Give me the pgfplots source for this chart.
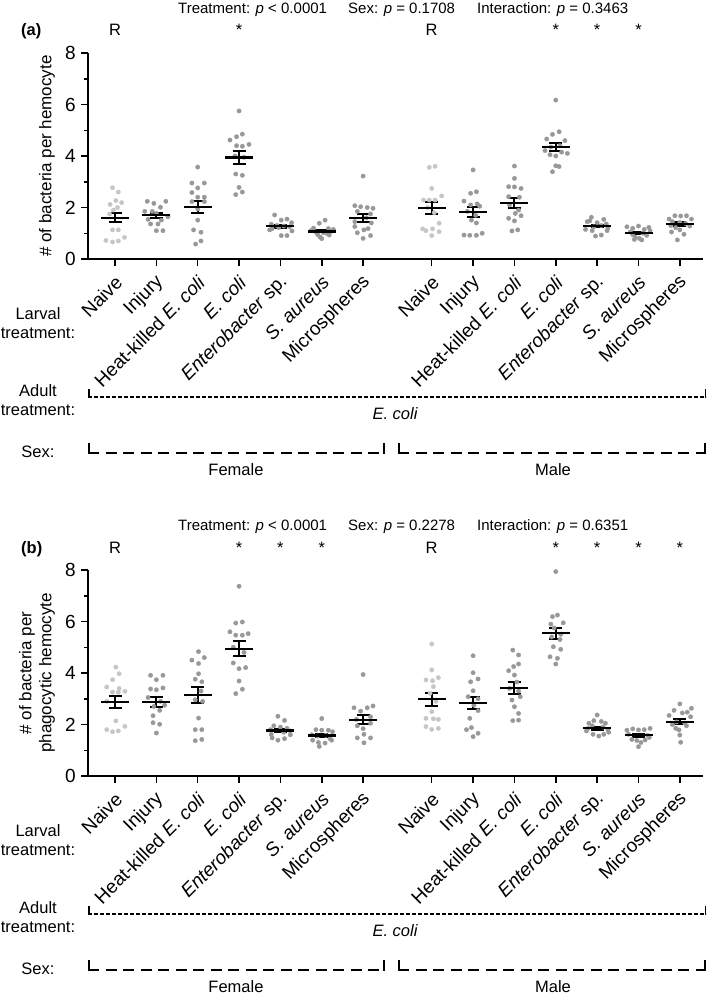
\documentclass[border=0pt]{standalone}
\usepackage{fontspec}
\setmainfont{Liberation Sans}
\usepackage{pgfplots}
\pgfplotsset{compat=1.18}
\definecolor{lightdot}{HTML}{C6C6C6}
\definecolor{darkdot}{HTML}{989898}
\newcommand{\lbl}{\fontsize{16.5}{19.5}\selectfont}
\newcommand{\tlbl}{\fontsize{19}{22}\selectfont}
\newcommand{\ylbl}{\fontsize{17}{20}\selectfont}
\newcommand{\ptxt}{\fontsize{15}{18}\selectfont}
\pgfplotsset{
 panel/.style={
  scale only axis, width=615pt, height=206pt, anchor=south west,
  xmin=-0.653, xmax=14.22, ymin=0, ymax=8,
  axis lines=left, axis line style={-, line width=1.8pt, black},
  ytick={0,2,4,6,8}, minor ytick={1,3,5,7},
  xtick={0,1,2,3,4,5,6,7.66,8.66,9.66,10.66,11.66,12.66,13.66},
  xticklabels={Naive,Injury,Heat-killed \textit{E. coli},\textit{E. coli},\textit{Enterobacter} sp.,\textit{S. aureus},Microspheres,Naive,Injury,Heat-killed \textit{E. coli},\textit{E. coli},\textit{Enterobacter} sp.,\textit{S. aureus},Microspheres},
  tick align=outside, major tick length=7pt, minor tick length=4pt,
  tick style={line width=1.5pt, black},
  /pgf/number format/assume math mode=true,
  yticklabel style={font=\tlbl, inner sep=0pt, xshift=-5pt},
  xticklabel style={font=\tlbl, xshift=4pt, yshift=-13pt, rotate=45, anchor=east, inner sep=0pt},
  clip=false,
 },
 dotsL/.style={only marks, mark=*, mark size=2.2pt, mark options={draw=lightdot, line width=0.3pt, fill=lightdot}},
 dotsD/.style={only marks, mark=*, mark size=2.2pt, mark options={draw=darkdot, line width=0.3pt, fill=darkdot}},
 meanse/.style={only marks, mark=-, mark size=14pt, mark options={line width=2.2pt, black},
   error bars/.cd, y dir=both, y explicit, error bar style={line width=2pt, black},
   error mark options={rotate=90, mark size=6.5pt, line width=2pt, black}},
}
\begin{document}
\begin{tikzpicture}[x=1pt,y=1pt]
\useasboundingbox (0,0) rectangle (709,-995);
% ---------------- panel (a)
\begin{axis}[panel, at={(88pt,-259pt)}]
\addplot[dotsL] coordinates {(-0.06,2.77)(0.08,2.60)(0.02,2.27)(0.16,2.19)(-0.12,2.12)(0.06,2.00)(-0.04,1.90)(-0.13,1.75)(-0.06,1.13)(0.08,1.13)(0.23,0.84)(-0.22,0.72)(0.08,0.70)(-0.06,0.66)};
\addplot[dotsD] coordinates {(0.78,2.24)(0.94,2.16)(1.23,2.24)(1.10,2.01)(0.72,1.85)(0.90,1.85)(1.00,1.77)(1.28,1.64)(0.80,1.54)(1.12,1.51)(0.86,1.36)(1.04,1.36)(1.00,1.10)(1.16,1.10)};
\addplot[dotsD] coordinates {(2.00,3.57)(1.86,2.95)(2.16,2.95)(2.00,2.76)(1.86,2.58)(2.00,2.40)(2.16,2.40)(1.86,2.23)(2.16,2.23)(2.00,1.94)(2.00,1.51)(1.90,1.13)(2.08,1.04)(2.08,0.70)(1.95,0.58)};
\addplot[dotsD] coordinates {(3.00,5.75)(3.08,4.85)(2.94,4.75)(2.78,4.62)(3.24,4.45)(2.94,4.40)(3.08,4.38)(2.90,4.00)(3.12,3.95)(2.92,3.30)(3.08,3.25)(3.00,2.78)(3.08,2.60)(2.92,2.50)};
\addplot[dotsD] coordinates {(3.86,1.71)(4.16,1.55)(4.02,1.51)(4.27,1.41)(3.78,1.35)(3.92,1.30)(4.08,1.28)(4.22,1.25)(3.96,1.22)(3.74,1.13)(4.28,1.09)(4.02,0.91)(4.16,0.91)(3.80,1.18)};
\addplot[dotsD] coordinates {(5.08,1.51)(4.94,1.39)(4.80,1.20)(5.16,1.18)(5.28,1.15)(4.74,1.10)(5.24,1.08)(4.86,1.05)(5.04,1.02)(5.12,1.00)(4.90,0.95)(5.18,0.93)(4.96,0.85)(5.00,0.79)};
\addplot[dotsD] coordinates {(6.00,3.22)(5.80,2.07)(5.94,2.03)(6.10,2.00)(6.24,1.97)(5.86,1.85)(6.18,1.75)(6.08,1.60)(5.80,1.45)(6.20,1.40)(5.80,1.26)(6.12,1.18)(6.02,1.13)(5.86,1.02)(6.18,0.91)(6.00,0.80)};
\addplot[dotsL] coordinates {(7.74,3.60)(7.60,3.56)(7.66,2.74)(7.90,2.45)(7.46,2.29)(7.60,2.29)(7.74,2.29)(7.56,2.00)(7.72,1.80)(7.84,1.39)(7.44,1.17)(7.68,1.17)(7.52,1.10)(7.84,1.06)(7.66,0.91)};
\addplot[dotsD] coordinates {(8.66,3.46)(8.74,2.61)(8.60,2.55)(8.44,2.25)(8.76,2.14)(8.60,2.10)(8.82,2.05)(8.52,1.85)(8.72,1.70)(8.62,1.51)(8.74,1.40)(8.88,1.00)(8.44,0.93)(8.58,0.92)(8.74,0.92)};
\addplot[dotsD] coordinates {(9.66,3.61)(9.66,3.13)(9.52,2.81)(9.66,2.80)(9.82,2.74)(9.52,2.42)(9.78,2.40)(9.54,2.10)(9.76,1.90)(9.68,1.77)(9.82,1.68)(9.52,1.58)(9.66,1.48)(9.74,1.13)(9.60,1.09)};
\addplot[dotsD] coordinates {(10.66,6.17)(10.74,4.94)(10.58,4.84)(10.44,4.66)(10.88,4.60)(10.76,4.40)(10.54,4.35)(10.40,4.21)(10.80,4.15)(10.94,4.10)(10.52,4.05)(10.66,4.00)(10.66,3.62)(10.74,3.59)(10.58,3.39)};
\addplot[dotsD] coordinates {(11.52,1.62)(11.82,1.54)(11.48,1.48)(11.42,1.45)(11.66,1.41)(11.88,1.36)(11.76,1.30)(11.58,1.25)(11.92,1.20)(11.38,1.15)(11.54,1.10)(11.90,1.10)(11.76,0.93)(11.62,0.89)};
\addplot[dotsD] coordinates {(12.66,1.28)(12.38,1.25)(12.91,1.23)(12.52,1.19)(12.80,1.15)(12.94,1.10)(12.46,1.05)(12.76,1.00)(12.52,0.95)(12.86,0.92)(12.58,0.85)(12.68,0.80)(12.56,0.76)(12.74,0.74)};
\addplot[dotsD] coordinates {(13.54,1.68)(13.68,1.67)(13.82,1.68)(13.40,1.55)(13.94,1.55)(13.48,1.45)(13.66,1.42)(13.80,1.38)(13.44,1.30)(13.90,1.28)(13.56,1.22)(13.66,1.13)(13.46,1.05)(13.76,0.96)(13.60,0.74)};
\addplot[meanse] coordinates {
 (0,1.60)+-(0,0.18) (1,1.70)+-(0,0.09) (2,2.02)+-(0,0.23) (3,3.94)+-(0,0.24)
 (4,1.27)+-(0,0.06) (5,1.07)+-(0,0.04) (6,1.59)+-(0,0.16)
 (7.66,1.99)+-(0,0.23) (8.66,1.83)+-(0,0.20) (9.66,2.17)+-(0,0.20) (10.66,4.35)+-(0,0.17)
 (11.66,1.28)+-(0,0.05) (12.66,1.02)+-(0,0.04) (13.66,1.35)+-(0,0.07)};
\end{axis}
% ---------------- panel (b)
\begin{axis}[panel, at={(88pt,-776pt)}]
\addplot[dotsL] coordinates {(0.02,4.23)(0.10,3.97)(-0.06,3.74)(-0.20,3.46)(0.10,3.40)(-0.06,3.26)(0.08,3.25)(0.24,3.29)(-0.20,2.90)(0.02,2.14)(0.24,1.93)(-0.20,1.80)(-0.06,1.72)(0.08,1.75)};
\addplot[dotsD] coordinates {(0.86,3.91)(1.16,3.91)(1.00,3.74)(1.16,3.42)(0.86,3.38)(1.00,3.35)(0.80,3.05)(1.10,2.90)(1.20,2.75)(0.94,2.70)(1.08,2.55)(0.92,2.34)(0.92,2.07)(1.08,2.01)(1.00,1.67)};
\addplot[dotsD] coordinates {(2.02,4.83)(2.16,4.60)(1.86,4.50)(2.02,4.37)(2.02,3.97)(1.94,3.76)(2.10,3.66)(2.08,3.30)(1.94,2.96)(2.12,2.90)(2.02,2.25)(1.94,1.80)(2.10,1.80)(2.10,1.42)(1.94,1.37)};
\addplot[dotsD] coordinates {(3.00,7.37)(3.08,5.98)(2.92,5.94)(2.78,5.60)(3.22,5.53)(2.92,5.47)(3.08,5.47)(2.86,5.00)(3.12,4.80)(2.86,4.39)(3.16,4.21)(3.00,4.17)(3.00,3.69)(3.08,3.37)(2.92,3.20)};
\addplot[dotsD] coordinates {(3.94,2.32)(4.10,2.16)(3.84,1.95)(4.00,1.90)(4.16,1.85)(3.76,1.80)(4.24,1.75)(4.08,1.70)(3.78,1.62)(4.24,1.60)(3.80,1.48)(4.10,1.45)(3.94,1.39)};
\addplot[dotsD] coordinates {(5.00,2.23)(4.86,1.80)(5.00,1.78)(5.16,1.78)(5.26,1.72)(4.76,1.60)(5.10,1.58)(4.90,1.55)(5.20,1.45)(4.78,1.39)(5.24,1.39)(4.92,1.30)(5.08,1.28)(4.94,1.15)};
\addplot[dotsD] coordinates {(6.00,3.94)(6.24,2.72)(5.78,2.65)(6.10,2.65)(5.94,2.52)(6.18,2.30)(5.84,2.20)(6.18,2.05)(5.86,1.95)(6.00,1.84)(6.02,1.62)(5.86,1.48)(6.18,1.48)(6.02,1.29)};
\addplot[dotsL] coordinates {(7.66,5.13)(7.66,4.12)(7.52,3.73)(7.68,3.70)(7.82,3.82)(7.70,3.47)(7.62,3.21)(7.76,2.90)(7.66,2.50)(7.52,2.24)(7.70,2.22)(7.82,2.20)(7.52,1.92)(7.66,1.81)(7.82,1.85)};
\addplot[dotsD] coordinates {(8.66,4.67)(8.66,4.01)(8.78,3.77)(8.60,3.66)(8.66,3.31)(8.54,3.08)(8.78,3.00)(8.68,2.75)(8.78,2.54)(8.58,2.24)(8.62,1.88)(8.50,1.80)(8.78,1.66)(8.66,1.53)};
\addplot[dotsD] coordinates {(9.62,4.89)(9.76,4.70)(9.76,4.35)(9.64,4.25)(9.52,4.09)(9.66,3.92)(9.72,3.65)(9.54,3.40)(9.76,3.30)(9.80,3.08)(9.60,2.95)(9.66,2.69)(9.76,2.43)(9.76,2.17)(9.62,2.15)};
\addplot[dotsD] coordinates {(10.66,7.94)(10.70,6.25)(10.58,6.19)(10.84,5.95)(10.54,5.90)(10.62,5.75)(10.78,5.50)(10.56,5.40)(10.76,5.30)(10.60,5.02)(10.78,4.92)(10.52,4.63)(10.70,4.57)(10.66,4.35)};
\addplot[dotsD] coordinates {(11.66,2.37)(11.58,2.15)(11.76,2.12)(11.46,2.05)(11.86,2.05)(11.54,1.95)(11.80,1.90)(11.44,1.85)(11.92,1.80)(11.40,1.75)(11.94,1.70)(11.56,1.62)(11.82,1.62)(11.70,1.55)};
\addplot[dotsD] coordinates {(12.94,1.85)(12.52,1.83)(12.80,1.80)(12.66,1.79)(12.38,1.78)(12.42,1.62)(12.88,1.58)(12.92,1.50)(12.50,1.42)(12.82,1.40)(12.62,1.38)(12.72,1.30)(12.66,1.14)};
\addplot[dotsD] coordinates {(13.66,2.80)(13.94,2.63)(13.52,2.55)(13.84,2.48)(13.72,2.45)(13.40,2.35)(13.92,2.30)(13.58,2.10)(13.78,2.05)(13.48,2.00)(13.82,1.95)(13.56,1.85)(13.64,1.79)(13.66,1.59)(13.68,1.31)};
\addplot[meanse] coordinates {
 (0,2.87)+-(0,0.22) (1,2.87)+-(0,0.20) (2,3.14)+-(0,0.31) (3,4.94)+-(0,0.29)
 (4,1.77)+-(0,0.07) (5,1.57)+-(0,0.07) (6,2.19)+-(0,0.17)
 (7.66,2.98)+-(0,0.26) (8.66,2.83)+-(0,0.24) (9.66,3.41)+-(0,0.24) (10.66,5.54)+-(0,0.22)
 (11.66,1.85)+-(0,0.06) (12.66,1.58)+-(0,0.06) (13.66,2.11)+-(0,0.10)};
\end{axis}
% ---------------- annotations
\foreach \dy/\pa/\pb/\tag in {0/0.1708/0.3463/a, 517/0.2278/0.6351/b}{
 \begin{scope}[yshift=-\dy pt]
  \node[anchor=base west, font=\ptxt, inner sep=0pt] at (178,-13.5) {Treatment: \textit{p} < 0.0001};
  \node[anchor=base west, font=\ptxt, inner sep=0pt] at (348,-13.5) {Sex: \textit{p} = \pa};
  \node[anchor=base west, font=\ptxt, inner sep=0pt] at (477,-13.5) {Interaction: \textit{p} = \pb};
  \node[anchor=base west, font=\lbl\bfseries, inner sep=0pt] at (21,-36) {(\tag)};
  \node[anchor=base, font=\lbl, inner sep=0pt] at (115,-36) {R};
  \node[anchor=base, font=\lbl, inner sep=0pt] at (431.7,-36) {R};
  \node[font=\lbl, align=center, inner sep=0pt] at (38,-323) {Larval\\treatment:};
  \node[font=\lbl, align=center, inner sep=0pt] at (38,-400) {Adult\\treatment:};
  \node[font=\lbl, inner sep=0pt] at (38,-452) {Sex:};
  \draw[line width=1.5pt, dash pattern=on 4pt off 2pt] (88,-397) -- (706,-397);
  \draw[line width=1.5pt] (88.75,-389) -- (88.75,-397.75) (705.25,-389) -- (705.25,-397.75);
  \node[font=\lbl\itshape, inner sep=0pt] at (395,-414) {E. coli};
  \draw[line width=2pt, dash pattern=on 11pt off 6.5pt] (88,-453) -- (385,-453);
  \draw[line width=2pt, dash pattern=on 11pt off 6.5pt] (398,-453) -- (706,-453);
  \draw[line width=2pt] (89,-443) -- (89,-454) (384,-443) -- (384,-454) (399,-443) -- (399,-454) (705,-443) -- (705,-454);
  \node[font=\lbl, inner sep=0pt] at (236,-470) {Female};
  \node[font=\lbl, inner sep=0pt] at (553,-470) {Male};
 \end{scope}
}
\node[rotate=90, font=\ylbl, inner sep=0pt] at (47,-156) {\# of bacteria per hemocyte};
\node[rotate=90, font=\ylbl, align=center, inner sep=0pt] at (37,-673) {\# of bacteria per\\phagocytic hemocyte};
% significance stars
\foreach \x in {239.1,555.8,597.1,638.5}{\node[anchor=base, font=\lbl, inner sep=0pt] at (\x,-36) {*};}
\foreach \x in {239.1,280.4,321.8,555.8,597.1,638.5,679.8}{\node[anchor=base, font=\lbl, inner sep=0pt] at (\x,-553) {*};}
\end{tikzpicture}
\end{document}
